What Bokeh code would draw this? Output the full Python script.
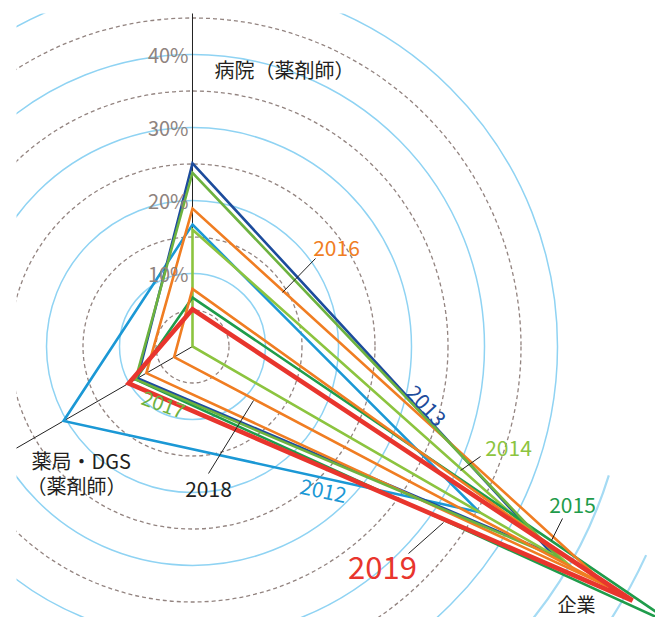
import math
from bokeh.plotting import figure
from bokeh.models import Label, Range1d
from bokeh.embed import file_html
from bokeh.resources import INLINE

# ---------------- data ----------------
years = ["2012", "2013", "2014", "2015", "2016", "2017", "2018", "2019"]
hospital = [16.7, 25.1, 16.0, 6.7, 18.9, 23.8, 7.9, 5.1]      # 病院(薬剤師) %
pharmacy = [20.4, 8.7, 0.0, 9.0, 7.3, 9.0, 2.9, 10.1]         # 薬局・DGS(薬剤師) %
company = [45.4, 57.0, 59.0, 77.0, 65.6, 58.0, 65.6, 69.6]    # 企業 %
tick_values = [10, 20, 30, 40]
tick_labels = ["10%", "20%", "30%", "40%"]
axis_names = ["病院（薬剤師）", "薬局・DGS", "（薬剤師）", "企業"]

# ---------------- styles ----------------
colors = ["#1b98d5", "#1d4c9c", "#8cc43f", "#1f9c4b", "#f07d22", "#6db23f", "#f07d22", "#e8352d"]
widths = [2.6, 2.6, 2.6, 2.6, 2.6, 2.6, 2.6, 4.6]
FONT = "Noto Sans CJK JP"

S = 7.3            # px per percent
CX, CY = 192, 346  # page pixel position of the centre
L, T, R, B = 16, 13, 655, 617


def P(xp, yp):
    return (xp - CX) / S, (CY - yp) / S


p = figure(width=R, height=B, output_backend="svg", toolbar_location=None,
           x_range=Range1d((L - CX) / S, (R - CX) / S),
           y_range=Range1d((CY - B) / S, (CY - T) / S),
           min_border_left=L, min_border_top=T, min_border_right=0, min_border_bottom=0,
           x_axis_location=None, y_axis_location=None)
p.grid.visible = False
p.outline_line_color = None
p.background_fill_color = "white"
p.border_fill_color = "white"

# grid circles
dashed = [5, 15, 25, 35, 45]
solid = [10, 20, 30, 40, 50]
p.circle(x=[0] * len(dashed), y=[0] * len(dashed), radius=dashed, fill_color=None,
         line_color="#938480", line_width=1.3, line_dash="4 3")
p.circle(x=[0] * len(solid), y=[0] * len(solid), radius=solid, fill_color=None,
         line_color="#8fd3f3", line_width=1.5)
p.arc(x=[0, 0], y=[0, 0], radius=[59.7, 68.4],
      start_angle=[math.radians(-80), math.radians(-80)],
      end_angle=[math.radians(-17.2), math.radians(-24.7)],
      line_color="#a5dbf4", line_width=2.2)

# axes
p.ray(x=[0, 0], y=[0, 0], length=[80, 80], angle=[math.pi / 2, math.radians(210)],
      line_color="#222222", line_width=1)

# tick labels
for v, t in zip(tick_values, tick_labels):
    p.add_layout(Label(x=P(188, 0)[0], y=v, text=t, text_align="right", text_baseline="middle",
                       text_font=FONT, text_font_size="20px", text_color="#8f837e"))

# 2017 label (under the lines)
x, y = P(163, 404)
p.add_layout(Label(x=x, y=y, text="2017", angle=math.radians(-20), text_align="center",
                   text_baseline="middle", text_font=FONT, text_font_size="20px",
                   text_color=colors[5]))

# polygons
c30 = math.cos(math.radians(30))
for yr, h, ph, co, c, w in zip(years, hospital, pharmacy, company, colors, widths):
    xs = [0, -c30 * ph, c30 * co]
    ys = [h, -0.5 * ph, -0.5 * co]
    p.patch(xs, ys, fill_color=None, line_color=c, line_width=w, line_join="miter")

# leader lines
leaders = [((315, 258), (282, 292)), ((208, 473), (253, 400)), ((480, 456), (460, 470)),
           ((562, 518), (551, 540)), ((408, 553), (443, 522))]
for (a, b) in leaders:
    x0, y0 = P(*a)
    x1, y1 = P(*b)
    p.segment(x0=[x0], y0=[y0], x1=[x1], y1=[y1], line_color="#222222", line_width=1)

# year labels
year_labels = [
    ("2016", 336, 247, 0, colors[4], "21px"),
    ("2018", 208, 488, 0, "#231f20", "21px"),
    ("2014", 508, 447, 0, colors[2], "21px"),
    ("2015", 572, 504, 0, colors[3], "21px"),
    ("2019", 382, 567, 0, colors[7], "31px"),
    ("2013", 426, 405, -47, colors[1], "21px"),
    ("2012", 323, 490, -12, colors[0], "21px"),
]
for t, xp, yp, ang, c, fs in year_labels:
    x, y = P(xp, yp)
    p.add_layout(Label(x=x, y=y, text=t, angle=math.radians(ang), text_align="center",
                       text_baseline="middle", text_font=FONT, text_font_size=fs, text_color=c))

# axis names
for t, xp, yp, al, fs in [(axis_names[0], 214, 69, "left", "20px"),
                          (axis_names[1], 31, 460, "left", "20px"),
                          (axis_names[2], 26, 485, "left", "20px"),
                          (axis_names[3], 576, 603, "center", "19px")]:
    x, y = P(xp, yp)
    p.add_layout(Label(x=x, y=y, text=t, text_align=al, text_baseline="middle",
                       text_font=FONT, text_font_size=fs, text_color="#231f20"))

open("out.html", "w").write(file_html(p, INLINE))
